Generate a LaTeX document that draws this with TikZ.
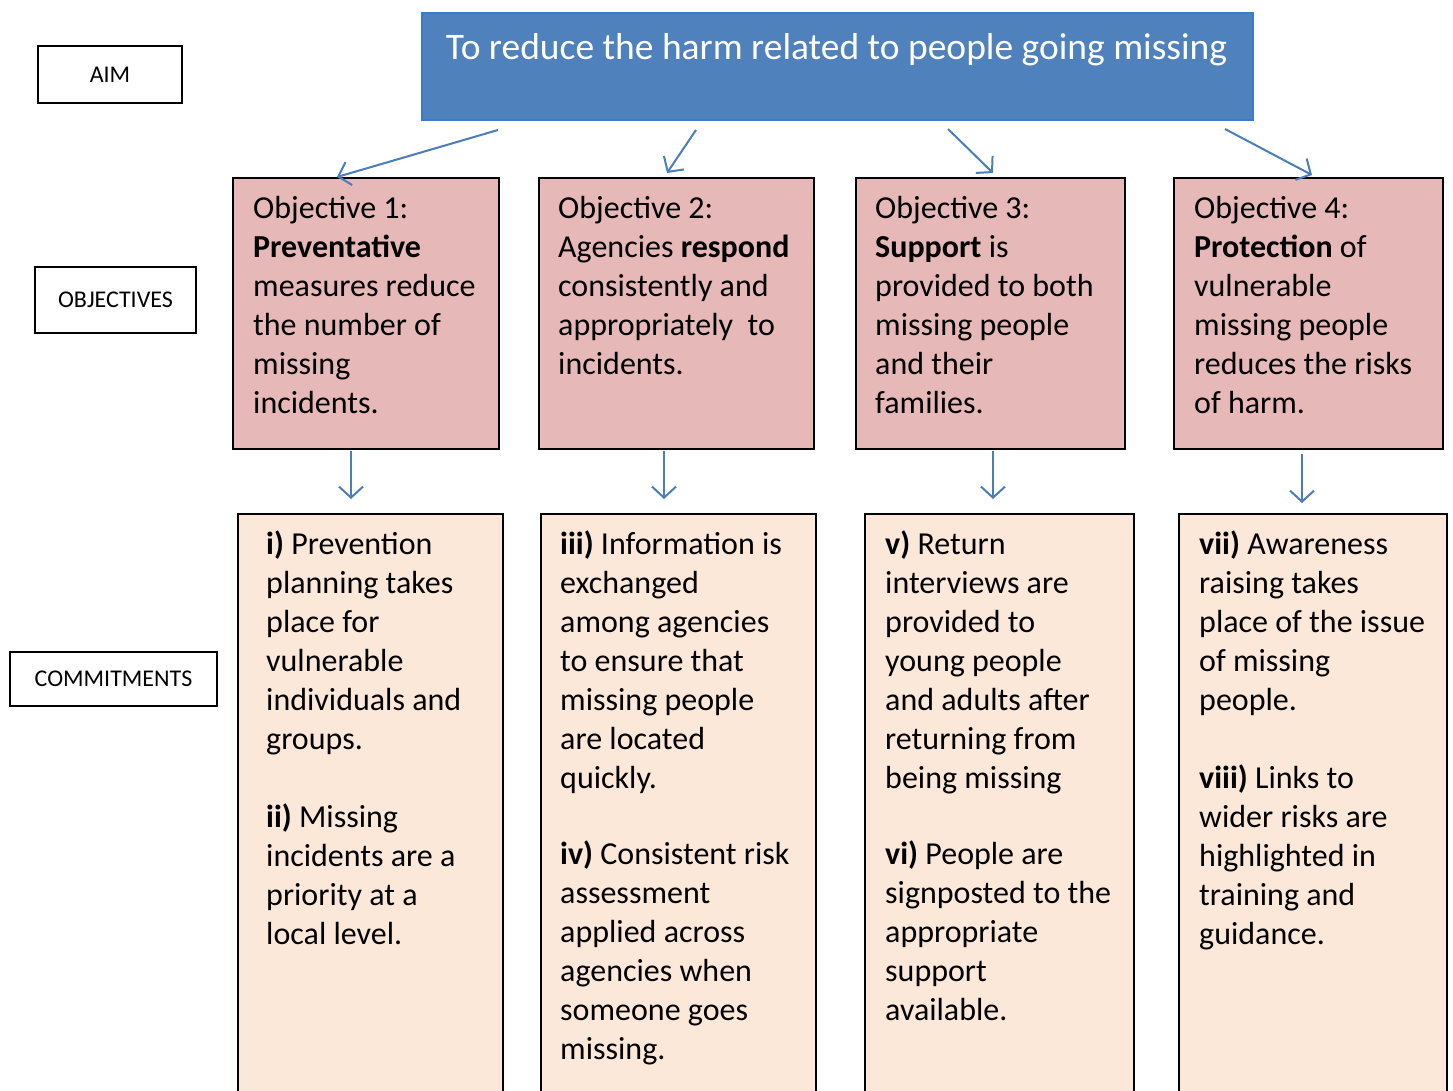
\documentclass[tikz,border=0pt]{standalone}
\usepackage{fontspec}
\setmainfont{Carlito}
\usetikzlibrary{arrows.meta}
\definecolor{aimfill}{HTML}{4F81BD}
\definecolor{aimline}{HTML}{3B7BCB}
\definecolor{arrblue}{HTML}{4A7EBB}
\definecolor{objfill}{HTML}{E6B8B7}
\definecolor{comfill}{HTML}{FCE8D9}
\tikzset{
  lblbox/.style={draw=black, line width=2pt, fill=white, anchor=north west, inner sep=0pt,
    font={\fontsize{24}{28}\selectfont}},
  objbox/.style={draw=black, line width=2pt, fill=objfill, anchor=north west, inner sep=0pt},
  combox/.style={draw=black, line width=2pt, fill=comfill, anchor=north west, inner sep=0pt},
  bodytext/.style={anchor=north west, inner sep=0pt, align=left,
    font={\fontsize{32}{39}\selectfont}},
  arr/.style={draw=arrblue, line width=2pt, -{Straight Barb[length=11pt,width=24pt,line width=2pt]}}
}
\newcommand{\topstrut}{\rule{0pt}{30pt}}
\begin{document}
\begin{tikzpicture}[x=1pt,y=-1pt]
\clip (0,0) rectangle (1453,1091);
\fill[white] (0,0) rectangle (1453,1091);

% side labels
\node[lblbox, minimum width=144pt, minimum height=57pt] (laim) at (37,45) {AIM};
\node[lblbox, minimum width=161pt, minimum height=66pt] (lobj) at (34,266) {OBJECTIVES};
\node[lblbox, minimum width=207pt, minimum height=54pt] (lcom) at (9,651) {COMMITMENTS};

% aim
\node[draw=aimline, line width=2pt, fill=aimfill, anchor=north west, inner sep=0pt,
  minimum width=831pt, minimum height=107pt] (aim) at (421,12) {};
\node[anchor=base, inner sep=0pt, text=white, font={\fontsize{37.5}{42}\selectfont}] (aimt) at (836.5,60)
  {To reduce the harm related to people going missing};

% objectives
\node[objbox, minimum width=266pt, minimum height=271pt] (o1) at (232,177) {};
\node[objbox, minimum width=275pt, minimum height=271pt] (o2) at (538,177) {};
\node[objbox, minimum width=269pt, minimum height=271pt] (o3) at (855,177) {};
\node[objbox, minimum width=269pt, minimum height=271pt] (o4) at (1173,177) {};

\node[bodytext] (o1t) at (253,188) {\topstrut Objective 1:\\ \textbf{Preventative}\\ measures reduce\\ the number of\\ missing\\ incidents.};
\node[bodytext] (o2t) at (558,188) {\topstrut Objective 2:\\ Agencies \textbf{respond}\\ consistently and\\ appropriately\ \ to\\ incidents.};
\node[bodytext] (o3t) at (875,188) {\topstrut Objective 3:\\ \textbf{Support} is\\ provided to both\\ missing people\\ and their\\ families.};
\node[bodytext] (o4t) at (1194,188) {\topstrut Objective 4:\\ \textbf{Protection} of\\ vulnerable\\ missing people\\ reduces the risks\\ of harm.};

% commitments
\node[combox, minimum width=265pt, minimum height=620pt] (c1) at (237,513) {};
\node[combox, minimum width=275pt, minimum height=620pt] (c2) at (540,513) {};
\node[combox, minimum width=269pt, minimum height=620pt] (c3) at (864,513) {};
\node[combox, minimum width=268pt, minimum height=620pt] (c4) at (1178,513) {};

\node[bodytext] (c1t) at (266,524) {\topstrut\textbf{i)} Prevention\\ planning takes\\ place for\\ vulnerable\\ individuals and\\ groups.\\[39pt] \textbf{ii)} Missing\\ incidents are a\\ priority at a\\ local level.};
\node[bodytext] (c2t) at (560,524) {\topstrut\textbf{iii)} Information is\\ exchanged\\ among agencies\\ to ensure that\\ missing people\\ are located\\ quickly.\\[37pt] \textbf{iv)} Consistent risk\\ assessment\\ applied across\\ agencies when\\ someone goes\\ missing.};
\node[bodytext] (c3t) at (885,524) {\topstrut\textbf{v)} Return\\ interviews are\\ provided to\\ young people\\ and adults after\\ returning from\\ being missing\\[37pt] \textbf{vi)} People are\\ signposted to the\\ appropriate\\ support\\ available.};
\node[bodytext] (c4t) at (1199,524) {\topstrut\textbf{vii)} Awareness\\ raising takes\\ place of the issue\\ of missing\\ people.\\[39pt] \textbf{viii)} Links to\\ wider risks are\\ highlighted in\\ training and\\ guidance.};

% arrows aim -> objectives
\draw[arr] ([xshift=77pt,yshift=-9pt]aim.south west) -- ([xshift=105pt]o1.north west);
\draw[arr] ([xshift=275pt,yshift=-9pt]aim.south west) -- ([xshift=129pt,yshift=4pt]o2.north west);
\draw[arr] ([xshift=527pt,yshift=-8pt]aim.south west) -- ([xshift=138pt,yshift=4pt]o3.north west);
\draw[arr] ([xshift=804pt,yshift=-8pt]aim.south west) -- ([xshift=139pt,yshift=2pt]o4.north west);

% arrows objectives -> commitments
\draw[arr] ([xshift=119pt,yshift=-1pt]o1.south west) -- ([xshift=114pt,yshift=14pt]c1.north west);
\draw[arr] ([xshift=126pt,yshift=-1pt]o2.south west) -- ([xshift=124pt,yshift=14pt]c2.north west);
\draw[arr] ([xshift=138pt,yshift=-1pt]o3.south west) -- ([xshift=129pt,yshift=14pt]c3.north west);
\draw[arr] ([xshift=129pt,yshift=-4pt]o4.south west) -- ([xshift=124pt,yshift=10pt]c4.north west);
\end{tikzpicture}
\end{document}
